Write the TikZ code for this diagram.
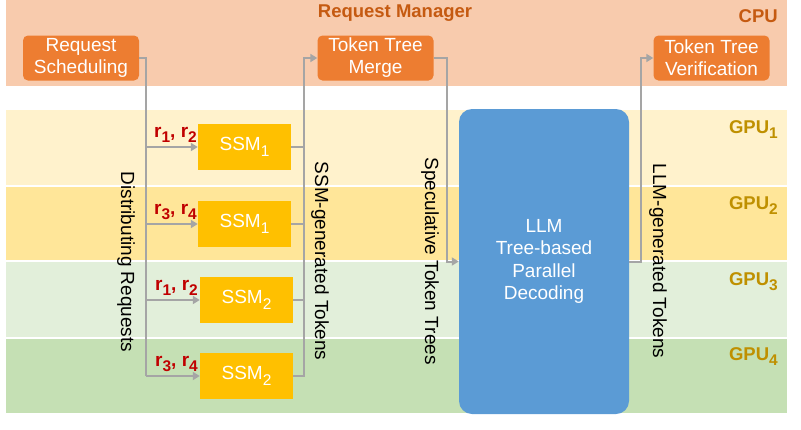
\documentclass[tikz,border=0pt]{standalone}
\usepackage{fontspec}
\setmainfont{Liberation Sans}
\usetikzlibrary{arrows.meta}
\definecolor{cpuband}{HTML}{F8CBAD}
\definecolor{obox}{HTML}{ED7D31}
\definecolor{otitle}{HTML}{C55A11}
\definecolor{gpuA}{HTML}{FFF2CC}
\definecolor{gpuB}{HTML}{FFE699}
\definecolor{gpuC}{HTML}{E2EFDA}
\definecolor{gpuD}{HTML}{C5E0B4}
\definecolor{ssmc}{HTML}{FFC000}
\definecolor{llmc}{HTML}{5B9BD5}
\definecolor{gpulab}{HTML}{BF9000}
\definecolor{rred}{HTML}{C00000}
\definecolor{conn}{HTML}{A5A5A5}
\newcommand\mysub[1]{\raisebox{-0.3em}{\fontsize{15.5}{16}\selectfont #1}}
\tikzset{
  orangebox/.style={fill=obox, rounded corners=5pt, text=white, align=center,
    font=\fontsize{19}{22}\selectfont, minimum width=116, minimum height=45, inner sep=0pt},
  ssmbox/.style={fill=ssmc, text=white, font=\fontsize{19}{22}\selectfont,
    minimum width=93, minimum height=46, inner sep=0pt},
  gline/.style={draw=conn, line width=2pt},
  garrow/.style={draw=conn, line width=2pt, -{Triangle[length=7pt,width=8pt]}},
  rlab/.style={text=rred, font=\bfseries\fontsize{19}{20}\selectfont, inner sep=0pt, anchor=base east},
  gpulabel/.style={text=gpulab, font=\bfseries\fontsize{18.5}{20}\selectfont, inner sep=0pt, anchor=base east},
  rottext/.style={rotate=-90, font=\fontsize{19}{20}\selectfont, inner sep=0pt},
}
\begin{document}
\begin{tikzpicture}[x=1pt,y=-1pt]
\useasboundingbox (0,0) rectangle (801,429);
% bands
\fill[cpuband] (6,0) rectangle (787,86);
\fill[gpuA] (6,110) rectangle (787,185);
\fill[gpuB] (6,187) rectangle (787,260);
\fill[gpuC] (6,262) rectangle (787,337);
\fill[gpuD] (6,339) rectangle (787,413);
% titles
\node[text=otitle, font=\bfseries\fontsize{18.5}{20}\selectfont, inner sep=0pt, anchor=base] (rm) at (395,17) {Request Manager};
\node[text=otitle, font=\bfseries\fontsize{18.5}{20}\selectfont, inner sep=0pt, anchor=base east] (cpu) at (778,22) {CPU};
\node[gpulabel] (g1) at (778,133) {GPU\mysub{1}};
\node[gpulabel] (g2) at (778,209) {GPU\mysub{2}};
\node[gpulabel] (g3) at (778,285) {GPU\mysub{3}};
\node[gpulabel] (g4) at (778,360) {GPU\mysub{4}};
% CPU boxes
\node[orangebox] (rs) at (81,58) {Request\\Scheduling};
\node[orangebox] (tm) at (375.5,58) {Token Tree\\Merge};
\node[orangebox] (tv) at (711.5,58) {Token Tree\\Verification};
% SSM boxes
\node[ssmbox] (s1) at (244.5,147) {SSM\mysub{1}};
\node[ssmbox] (s2) at (244.5,224) {SSM\mysub{1}};
\node[ssmbox] (s3) at (246.5,300) {SSM\mysub{2}};
\node[ssmbox] (s4) at (246.5,376) {SSM\mysub{2}};
% LLM
\node[fill=llmc, rounded corners=13pt, minimum width=170, minimum height=305, inner sep=0pt,
  text=white, align=center, font=\fontsize{19}{22.5}\selectfont] (llm) at (544,261.5)
  {LLM\\Tree-based\\Parallel\\Decoding};
% trunks
\coordinate (tl) at (146,0);
\coordinate (tr) at (304,0);
\coordinate (ts) at (447,0);
\coordinate (tvx) at (641,0);
% distributing
\draw[gline] (rs.east) -| (tl |- s4.west);
\draw[garrow] (tl |- s1.west) -- (s1.west);
\draw[garrow] (tl |- s2.west) -- (s2.west);
\draw[garrow] (tl |- s3.west) -- (s3.west);
\draw[garrow] (tl |- s4.west) -- (s4.west);
% ssm-generated
\draw[gline] (s1.east) -- (tr |- s1.east);
\draw[gline] (s2.east) -- (tr |- s2.east);
\draw[gline] (s3.east) -- (tr |- s3.east);
\draw[garrow] (s4.east) -| (tr |- tm.west) -- (tm.west);
% speculative
\draw[garrow] (tm.east) -| (ts |- llm.west) -- (llm.west);
% llm-generated
\draw[garrow] (llm.east) -| (tvx |- tv.west) -- (tv.west);
% r labels
\node[rlab] (r1) at (197,137) {r\mysub{1}, r\mysub{2}};
\node[rlab] (r2) at (197,214) {r\mysub{3}, r\mysub{4}};
\node[rlab] (r3) at (198,290) {r\mysub{1}, r\mysub{2}};
\node[rlab] (r4) at (198,366) {r\mysub{3}, r\mysub{4}};
% rotated labels
\node[rottext] (dr) at (126,262) {Distributing Requests};
\node[rottext] (sg) at (320,261) {SSM-generated Tokens};
\node[rottext] (st) at (430,261) {Speculative Token Trees};
\node[rottext] (lg) at (658,261) {LLM-generated Tokens};
\end{tikzpicture}
\end{document}
